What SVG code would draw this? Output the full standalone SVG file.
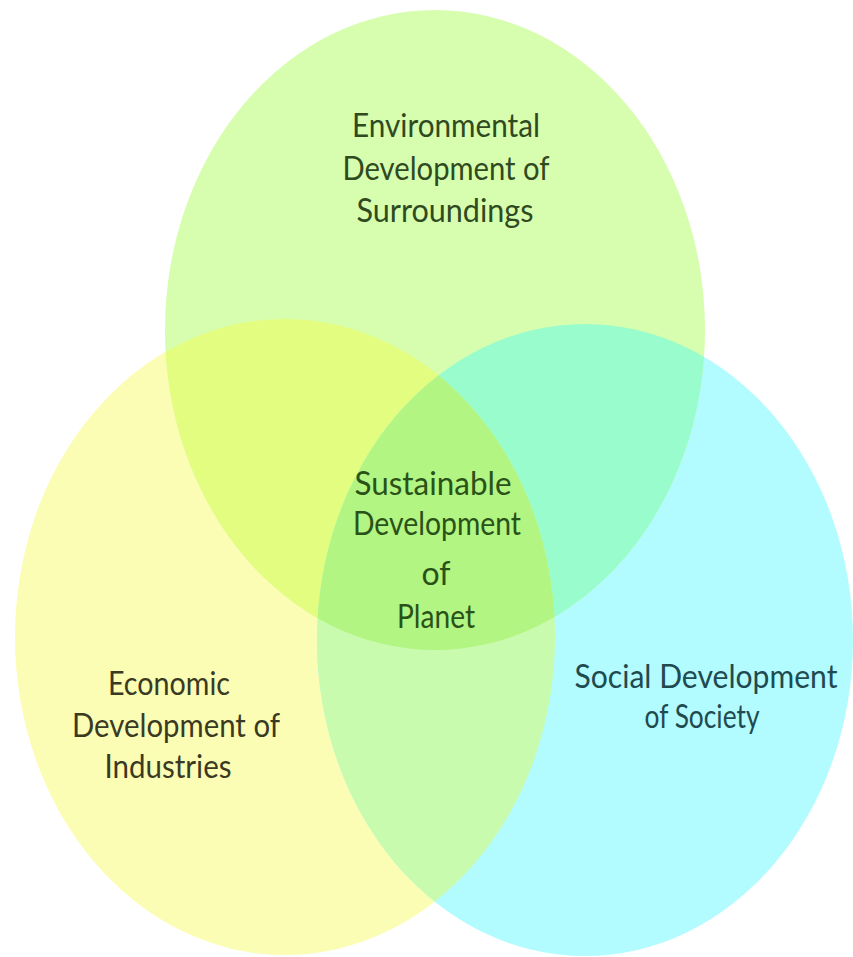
<svg xmlns="http://www.w3.org/2000/svg" width="853" height="957" viewBox="0 0 853 957">
  <style>
    .lbl { font-family: Lato, "Noto Sans", "DejaVu Sans", sans-serif; font-size: 32px; text-anchor: middle; }
    .env { fill: #2f4a1f; }
    .eco { fill: #3a3a22; }
    .soc { fill: #1f4a50; }
    .sus { fill: #2a5218; }
  </style>
  <defs>
    <clipPath id="clipG"><ellipse cx="435" cy="330" rx="270" ry="320"/></clipPath>
    <clipPath id="clipY"><ellipse cx="285" cy="637" rx="270" ry="318"/></clipPath>
  </defs>
  <rect width="853" height="957" fill="#ffffff"/>

  <g id="node-economic">
    <ellipse cx="285" cy="637" rx="270" ry="318" fill="#fcfdb4"/>
    <text class="lbl eco" x="169" y="695" textLength="122" lengthAdjust="spacingAndGlyphs">Economic</text>
    <text class="lbl eco" x="176" y="737" textLength="208" lengthAdjust="spacingAndGlyphs">Development of</text>
    <text class="lbl eco" x="168" y="778" textLength="127" lengthAdjust="spacingAndGlyphs">Industries</text>
  </g>

  <g id="node-social">
    <ellipse cx="585" cy="640" rx="268" ry="316" fill="#b2fbfe"/>
    <text class="lbl soc" x="706" y="688" textLength="263" lengthAdjust="spacingAndGlyphs">Social Development</text>
    <text class="lbl soc" x="702" y="728" textLength="115" lengthAdjust="spacingAndGlyphs">of Society</text>
  </g>

  <g id="node-environmental">
    <ellipse cx="435" cy="330" rx="270" ry="320" fill="#d7feae"/>
    <text class="lbl env" x="446" y="137" textLength="188" lengthAdjust="spacingAndGlyphs">Environmental</text>
    <text class="lbl env" x="446" y="180" textLength="207" lengthAdjust="spacingAndGlyphs">Development of</text>
    <text class="lbl env" x="445" y="222" textLength="177" lengthAdjust="spacingAndGlyphs">Surroundings</text>
  </g>

  <g id="overlaps">
    <ellipse cx="285" cy="637" rx="270" ry="318" fill="#e2fd80" clip-path="url(#clipG)"/>
    <ellipse cx="585" cy="640" rx="268" ry="316" fill="#99fccc" clip-path="url(#clipG)"/>
    <ellipse cx="585" cy="640" rx="268" ry="316" fill="#c9fbae" clip-path="url(#clipY)"/>
    <g clip-path="url(#clipG)">
      <ellipse cx="585" cy="640" rx="268" ry="316" fill="#b2f582" clip-path="url(#clipY)"/>
    </g>
  </g>

  <g id="node-sustainable">
    <text class="lbl sus" x="433" y="495" textLength="157" lengthAdjust="spacingAndGlyphs">Sustainable</text>
    <text class="lbl sus" x="437" y="535" textLength="168" lengthAdjust="spacingAndGlyphs">Development</text>
    <text class="lbl sus" x="436" y="585">of</text>
    <text class="lbl sus" x="436" y="628" textLength="78" lengthAdjust="spacingAndGlyphs">Planet</text>
  </g>

  <g id="connectors"/>
</svg>
